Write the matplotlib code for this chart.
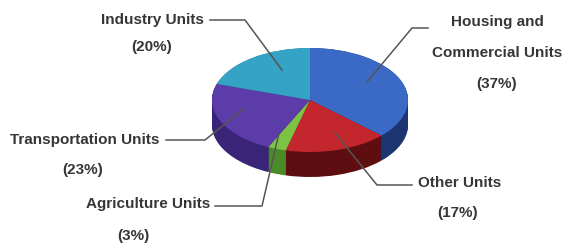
import matplotlib
matplotlib.use("Agg")
from matplotlib import pyplot as plt
import numpy as np

# slice data (clockwise from 12 o'clock)
labels = ["Housing and\nCommercial Units", "Other Units", "Agriculture Units",
          "Transportation Units", "Industry Units"]
shares = [37, 17, 3, 23, 20]
top_colors = ["#3b69c6", "#c3262c", "#7cc243", "#5c3ca8", "#35a3c6"]
side_colors = ["#1c3470", "#5e0d10", "#4b8a28", "#3a2478", "#1f6a85"]

W, H = 566, 246
cx, cy = 310, 100      # pie centre in pixels
rx, ry = 98, 52        # ellipse semi axes in pixels
depth = 25

fig = plt.figure(figsize=(W / 100, H / 100), dpi=100)

# pie axes: radius 1 maps to an ellipse via the limits
ax = fig.add_axes([0, 0, 1, 1])
n_layers = 30
for d in np.linspace(depth, 0, n_layers):
    ax.pie(shares, colors=side_colors, startangle=90, counterclock=False,
           center=(0, -d / ry), radius=1, wedgeprops=dict(linewidth=0))
ax.pie(shares, colors=top_colors, startangle=90, counterclock=False,
       center=(0, 0), radius=1, wedgeprops=dict(linewidth=0))
ax.set_aspect("auto")
ax.set_xlim(-cx / rx, (W - cx) / rx)
ax.set_ylim((cy - H) / ry, cy / ry)
ax.axis("off")

# overlay axes in pixel coordinates for labels and leader lines
ax2 = fig.add_axes([0, 0, 1, 1])
ax2.set_xlim(0, W)
ax2.set_ylim(H, 0)
ax2.axis("off")
ax2.patch.set_alpha(0)

font = dict(family="Liberation Sans", fontweight="bold", fontsize=11, color="#363636")
line = dict(color="#555555", linewidth=1.1)

# Industry
ax2.text(152, 20, labels[4], ha="center", va="center", **font)
ax2.text(152, 47, "(%d%%)" % shares[4], ha="center", va="center", **font)
ax2.plot([210, 245, 282], [20, 20, 70], **line)

# Housing
ax2.text(497, 22, "Housing and", ha="center", va="center", **font)
ax2.text(497, 53, "Commercial Units", ha="center", va="center", **font)
ax2.text(497, 84, "(%d%%)" % shares[0], ha="center", va="center", **font)
ax2.plot([428, 412, 367], [28, 28, 82], **line)

# Transportation
ax2.text(10, 140, labels[3], ha="left", va="center", **font)
ax2.text(83, 170, "(%d%%)" % shares[3], ha="center", va="center", **font)
ax2.plot([166, 205, 245], [140, 140, 108], **line)

# Agriculture
ax2.text(210, 204, labels[2], ha="right", va="center", **font)
ax2.text(133, 236, "(%d%%)" % shares[2], ha="center", va="center", **font)
ax2.plot([215, 262, 279], [206, 206, 133], **line)

# Other
ax2.text(418, 183, labels[1], ha="left", va="center", **font)
ax2.text(458, 213, "(%d%%)" % shares[1], ha="center", va="center", **font)
ax2.plot([335, 377, 412], [133, 185, 185], **line)

fig.savefig("out.png", dpi=100, facecolor="white")
